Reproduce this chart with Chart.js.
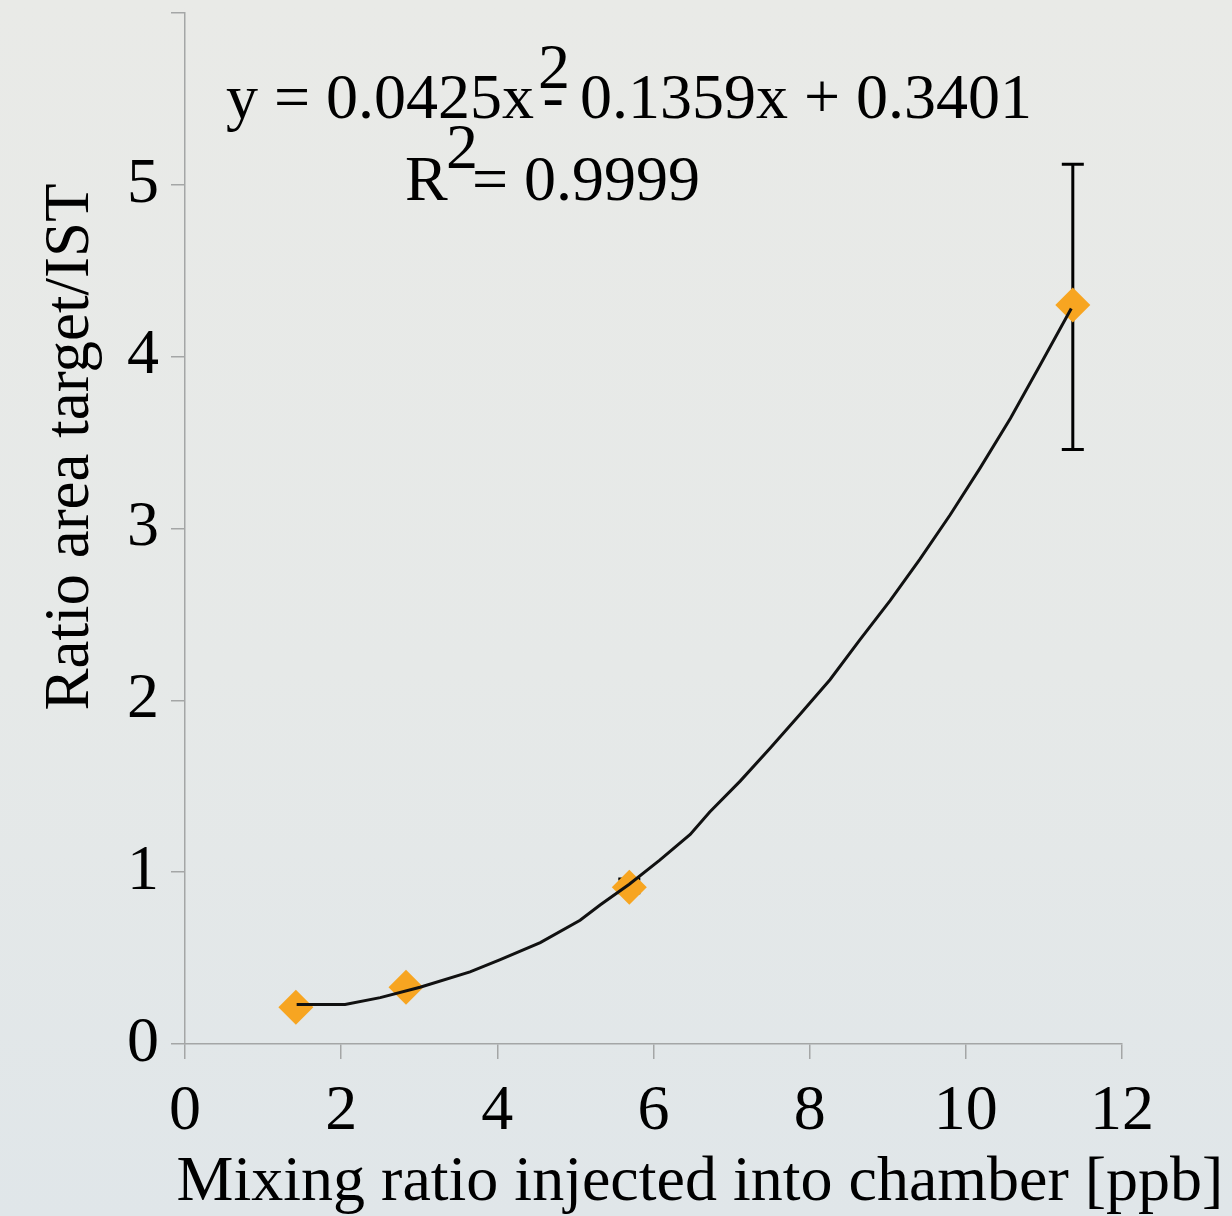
<!DOCTYPE html>
<html>
<head>
<meta charset="utf-8">
<script src="https://cdn.jsdelivr.net/npm/chart.js@4.4.1/dist/chart.umd.min.js"></script>
<style>
  html, body { margin: 0; padding: 0; }
  body {
    width: 1232px; height: 1216px; overflow: hidden;
    background: linear-gradient(180deg, #e9eae7 0%, #e6e9e8 55%, #e0e6e9 100%);
  }
  #wrap { position: relative; width: 1232px; height: 1216px; }
</style>
</head>
<body>
<div id="wrap"><canvas id="calib-chart"></canvas></div>
<script>
// measured calibration points (ratio area target/IST vs mixing ratio)
const pointX  = [1.42, 2.83, 5.69, 11.37];
const pointY  = [0.214, 0.33, 0.912, 4.30];
const errLow  = [0.214, 0.33, 0.88, 3.46];
const errHigh = [0.214, 0.33, 0.96, 5.12];

// polynomial trendline as drawn
const fitX = [1.43, 2.05, 2.50, 3.01, 3.65, 4.03, 4.55, 5.06, 5.32, 5.69, 6.08, 6.47, 6.72,
              7.11, 7.49, 7.88, 8.26, 8.64, 9.03, 9.41, 9.80, 10.18, 10.57, 10.95, 11.35];
const fitY = [0.23, 0.23, 0.27, 0.33, 0.42, 0.49, 0.59, 0.72, 0.81, 0.93, 1.07, 1.22, 1.35,
              1.53, 1.72, 1.92, 2.12, 2.35, 2.58, 2.82, 3.08, 3.35, 3.64, 3.95, 4.28];

const xTicks = [0, 2, 4, 6, 8, 10, 12];
const yTicks = [0, 1, 2, 3, 4, 5, 6];

const SERIF = "'Liberation Serif', 'Times New Roman', serif";
const AXIS_GREY = "#a4a6a6";

// ---------------------------------------------------------------------------
// Error bars, drawn under the markers
// ---------------------------------------------------------------------------
const errorBars = {
  id: "errorBars",
  beforeDatasetsDraw(chart) {
    const { ctx, scales: { x, y } } = chart;
    ctx.save();
    ctx.strokeStyle = "#000";
    ctx.lineWidth = 3;
    pointX.forEach((px, i) => {
      if (errHigh[i] === errLow[i]) return;
      const cx = x.getPixelForValue(px);
      const top = y.getPixelForValue(errHigh[i]);
      const bot = y.getPixelForValue(errLow[i]);
      ctx.beginPath();
      ctx.moveTo(cx, top); ctx.lineTo(cx, bot);
      ctx.moveTo(cx - 11, top); ctx.lineTo(cx + 11, top);
      ctx.moveTo(cx - 11, bot); ctx.lineTo(cx + 11, bot);
      ctx.stroke();
    });
    ctx.restore();
  },
};

// ---------------------------------------------------------------------------
// Trendline equation and axis titles
// ---------------------------------------------------------------------------
const labelText = {
  id: "labelText",
  afterDraw(chart) {
    const ctx = chart.ctx;
    ctx.save();
    ctx.fillStyle = "#000";
    ctx.font = "64px " + SERIF;
    ctx.textBaseline = "alphabetic";

    ctx.textAlign = "left";
    ctx.fillText("y = 0.0425x", 226, 118);
    ctx.fillText("2", 538, 88);
    ctx.textAlign = "right";
    ctx.fillText("- 0.1359x + 0.3401", 1032, 118);

    ctx.textAlign = "left";
    ctx.fillText("R", 405, 200);
    ctx.fillText("2", 446, 168);
    ctx.fillText("= 0.9999", 472, 200);

    ctx.textAlign = "center";
    ctx.fillText("Mixing ratio injected into chamber [ppb]", 700, 1200);

    ctx.translate(88, 447);
    ctx.rotate(-Math.PI / 2);
    ctx.font = "63px " + SERIF;
    ctx.fillText("Ratio area target/IST", 0, 0);
    ctx.restore();
  },
};

new Chart(document.getElementById("calib-chart"), {
  type: "scatter",
  data: {
    datasets: [
      {
        label: "fit",
        data: fitX.map((v, i) => ({ x: v, y: fitY[i] })),
        showLine: true,
        borderColor: "#111",
        borderWidth: 3,
        tension: 0,
        pointRadius: 0,
        order: 0,
      },
      {
        label: "measured",
        data: pointX.map((v, i) => ({ x: v, y: pointY[i] })),
        pointStyle: "rectRot",
        pointRadius: 17.5,
        pointBackgroundColor: "#f7a521",
        pointBorderWidth: 0,
        order: 1,
      },
    ],
  },
  options: {
    responsive: true,
    maintainAspectRatio: false,
    animation: false,
    layout: { autoPadding: false, padding: { top: 13, right: 110, left: 0, bottom: 0 } },
    plugins: { legend: { display: false }, tooltip: { enabled: false } },
    scales: {
      x: {
        type: "linear",
        min: 0, max: 12,
        afterBuildTicks: s => { s.ticks = xTicks.map(v => ({ value: v })); },
        afterFit: s => { s.height = 172; },
        ticks: {
          font: { family: SERIF, size: 64, lineHeight: 1 },
          color: "#000",
          padding: 21,
          maxRotation: 0,
        },
        grid: { drawOnChartArea: false, tickLength: 15, color: AXIS_GREY, lineWidth: 1.5 },
        border: { color: AXIS_GREY, width: 1.5 },
      },
      y: {
        type: "linear",
        min: 0, max: 6,
        afterBuildTicks: s => { s.ticks = yTicks.map(v => ({ value: v })); },
        afterFit: s => { s.width = 185; s.paddingTop = 0; s.paddingBottom = 0; },
        ticks: {
          font: { family: SERIF, size: 64, lineHeight: 1 },
          color: "#000",
          padding: 12,
          callback: v => (v === 6 ? "" : v),
        },
        grid: { drawOnChartArea: false, tickLength: 14, color: AXIS_GREY, lineWidth: 1.5 },
        border: { color: AXIS_GREY, width: 1.5 },
      },
    },
  },
  plugins: [errorBars, labelText],
});
</script>
</body>
</html>
